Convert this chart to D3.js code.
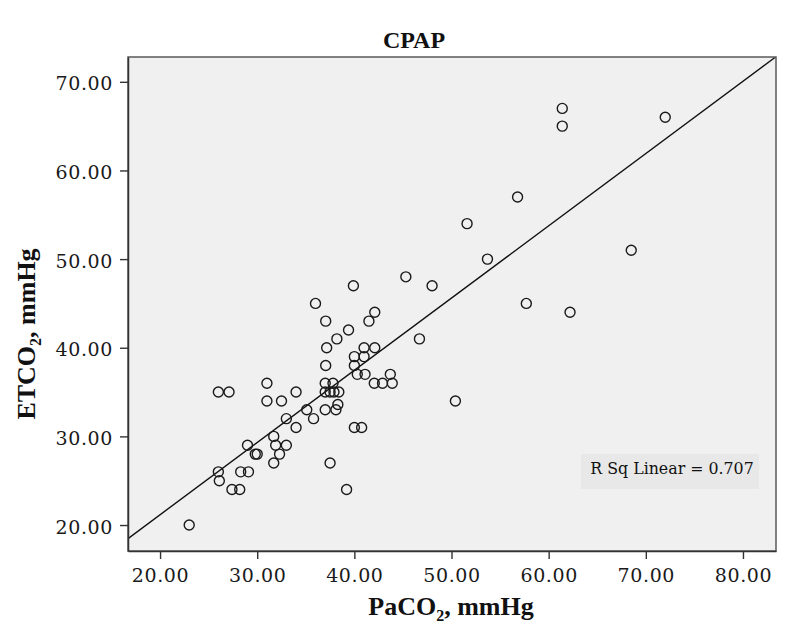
<!DOCTYPE html>
<html>
<head>
<meta charset="utf-8">
<script src="https://cdn.jsdelivr.net/npm/d3@7"></script>
<style>
  html, body { margin: 0; padding: 0; background: #ffffff; }
  svg { display: block; }
</style>
</head>
<body>
<svg id="chart" width="793" height="637"></svg>
<script>
// ---- data ----
const paco2 = [23.0,26.0,26.1,26.0,27.1,27.4,28.2,28.3,29.1,29.0,29.8,30.0,31.0,31.0,32.5,31.7,31.9,32.3,31.7,33.0,33.0,34.0,34.0,35.1,35.8,36.0,37.05,37.15,37.05,37.0,37.8,37.0,37.5,37.9,38.4,37.0,38.1,38.3,37.5,38.2,39.2,39.4,39.9,40.0,40.0,40.3,40.0,40.75,41.0,41.0,41.1,41.5,42.1,42.1,42.05,42.9,43.9,43.7,45.3,46.7,48.0,50.4,51.6,53.7,56.8,57.7,61.4,61.4,62.2,68.5,72.0];
const etco2 = [20,26,25,35,35,24,24,26,26,29,28,28,36,34,34,30,29,28,27,32,29,35,31,33,32,45,43,40,38,36,36,35,35,35,35,33,33,33.6,27,41,24,42,47,39,38,37,31,31,40,39,37,43,44,40,36,36,36,37,48,41,47,34,54,50,57,45,67,65,44,51,66];
const xTicks = [20,30,40,50,60,70,80];
const yTicks = [20,30,40,50,60,70];
const xDomain = [16.7, 83.4];
const yDomain = [17.07, 72.8];
const fitLine = [4.86, 0.815];   // intercept, slope
const rSqLabel = "R Sq Linear = 0.707";
const chartTitle = "CPAP";

// ---- layout ----
const plot = { left: 128, right: 776, top: 57, bottom: 551 };
const svg = d3.select("#chart");

const x = d3.scaleLinear().domain(xDomain).range([plot.left, plot.right]);
const y = d3.scaleLinear().domain(yDomain).range([plot.bottom, plot.top]);

svg.append("defs").append("clipPath").attr("id", "clip")
  .append("rect")
  .attr("x", plot.left).attr("y", plot.top)
  .attr("width", plot.right - plot.left).attr("height", plot.bottom - plot.top);

// plot background
svg.append("rect")
  .attr("x", plot.left).attr("y", plot.top)
  .attr("width", plot.right - plot.left).attr("height", plot.bottom - plot.top)
  .attr("fill", "#f0f0f0");

// R sq box
const rBox = svg.append("g");
rBox.append("rect")
  .attr("x", 581).attr("y", 454)
  .attr("width", 178).attr("height", 35)
  .attr("fill", "#e8e8e8");
rBox.append("text")
  .attr("x", 672).attr("y", 474)
  .attr("text-anchor", "middle")
  .attr("font-family", "DejaVu Serif")
  .attr("font-size", 15.8)
  .attr("fill", "#111")
  .text(rSqLabel);

// regression line
svg.append("line")
  .attr("clip-path", "url(#clip)")
  .attr("x1", x(xDomain[0])).attr("y1", y(fitLine[0] + fitLine[1] * xDomain[0]))
  .attr("x2", x(xDomain[1])).attr("y2", y(fitLine[0] + fitLine[1] * xDomain[1]))
  .attr("stroke", "#111").attr("stroke-width", 1.4);

// points
const pts = paco2.map((v, i) => ({ px: v, py: etco2[i] }));
svg.append("g").selectAll("circle")
  .data(pts).join("circle")
  .attr("cx", d => x(d.px)).attr("cy", d => y(d.py))
  .attr("r", 5)
  .attr("fill", "none")
  .attr("stroke", "#1a1a1a")
  .attr("stroke-width", 1.4);

// border
svg.append("rect")
  .attr("x", plot.left).attr("y", plot.top)
  .attr("width", plot.right - plot.left).attr("height", plot.bottom - plot.top)
  .attr("fill", "none").attr("stroke", "#5a5a5a").attr("stroke-width", 1.5);

// axes
const fmt = d3.format(".2f");
const xAxis = svg.append("g")
  .attr("transform", `translate(0,${plot.bottom})`)
  .call(d3.axisBottom(x).tickValues(xTicks).tickFormat(fmt).tickSize(8).tickSizeOuter(0).tickPadding(9.5));
const yAxis = svg.append("g")
  .attr("transform", `translate(${plot.left},0)`)
  .call(d3.axisLeft(y).tickValues(yTicks).tickFormat(fmt).tickSize(8).tickSizeOuter(0).tickPadding(7));

[xAxis, yAxis].forEach(a => {
  a.select(".domain").attr("stroke", "#333").attr("stroke-width", 1.5);
  a.selectAll(".tick line").attr("stroke", "#333").attr("stroke-width", 1.4);
  a.selectAll(".tick text")
    .attr("font-family", "DejaVu Serif")
    .attr("font-size", 19)
    .attr("letter-spacing", 0.6)
    .attr("fill", "#1a1a1a");
});
yAxis.selectAll(".tick text").attr("dy", "0.42em");

// title
svg.append("text")
  .attr("x", 414).attr("y", 48)
  .attr("text-anchor", "middle")
  .attr("font-family", "Liberation Serif")
  .attr("font-weight", "bold")
  .attr("font-size", 24)
  .attr("fill", "#111")
  .text(chartTitle);

// x axis title
const xt = svg.append("text")
  .attr("x", 451).attr("y", 615)
  .attr("text-anchor", "middle")
  .attr("font-family", "Liberation Serif")
  .attr("font-weight", "bold")
  .attr("font-size", 26)
  .attr("fill", "#111");
xt.append("tspan").text("PaCO");
xt.append("tspan").attr("font-size", 16).attr("dy", 6).text("2");
xt.append("tspan").attr("dy", -6).text(", mmHg");

// y axis title
const yt = svg.append("text")
  .attr("transform", "translate(35,334) rotate(-90)")
  .attr("text-anchor", "middle")
  .attr("font-family", "Liberation Serif")
  .attr("font-weight", "bold")
  .attr("font-size", 26)
  .attr("fill", "#111");
yt.append("tspan").text("ETCO");
yt.append("tspan").attr("font-size", 16).attr("dy", 6).text("2");
yt.append("tspan").attr("dy", -6).text(", mmHg");
</script>
</body>
</html>
